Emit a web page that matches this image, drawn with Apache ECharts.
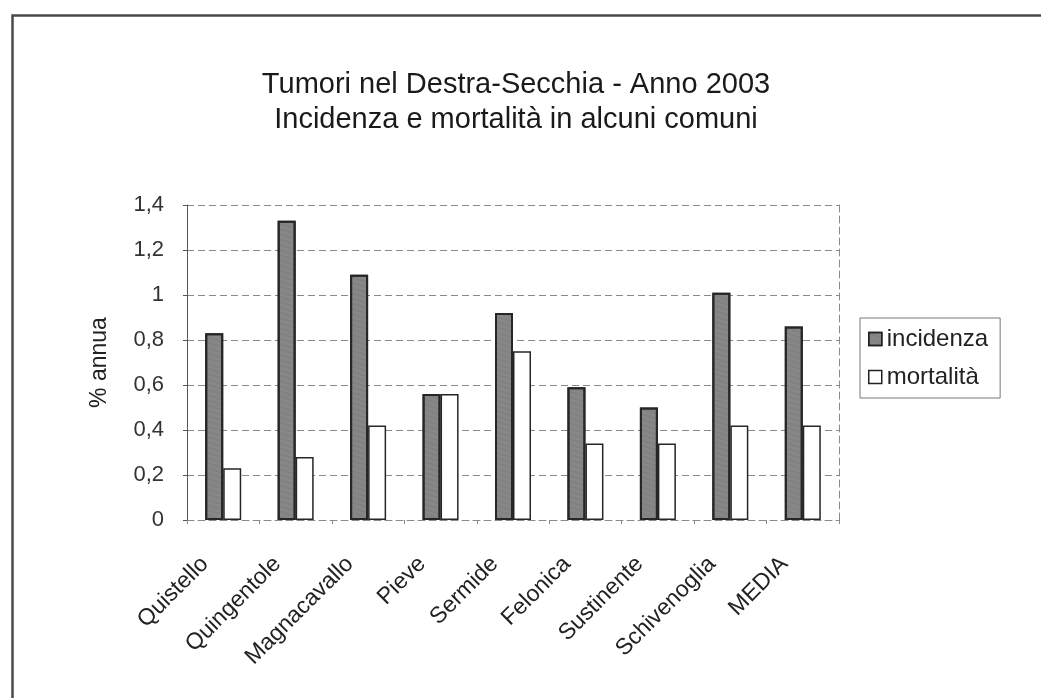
<!DOCTYPE html>
<html>
<head>
<meta charset="utf-8">
<script src="https://cdn.jsdelivr.net/npm/echarts@6/dist/echarts.min.js"></script>
<style>
html,body{margin:0;padding:0;background:#fff;}
#c{width:1041px;height:698px;}
</style>
</head>
<body>
<div id="c"></div>
<script>
const categories = ['Quistello','Quingentole','Magnacavallo','Pieve','Sermide','Felonica','Sustinente','Schivenoglia','MEDIA'];
const incidenza = [0.83, 1.33, 1.09, 0.56, 0.92, 0.59, 0.50, 1.01, 0.86];
const mortalita = [0.23, 0.28, 0.42, 0.56, 0.75, 0.34, 0.34, 0.42, 0.42];
const seriesNames = ['incidenza', 'mortalità'];
const titleLines = ['Tumori nel Destra-Secchia - Anno 2003', 'Incidenza e mortalità in alcuni comuni'];
const yAxisName = '% annua';

const chart = echarts.init(document.getElementById('c'));
const font = 'Liberation Sans, Arial, sans-serif';
const gridLine = { color: '#8a8a8a', type: [7, 4], width: 1 };
chart.setOption({
  backgroundColor: '#ffffff',
  animation: false,
  graphic: [{
    type: 'rect', left: 10, top: 13,
    shape: { width: 1040, height: 700 },
    style: { fill: 'none', stroke: '#4a4a4a', lineWidth: 2.5 },
    silent: true
  }],
  title: {
    text: titleLines.join('\n'),
    left: 511, textAlign: 'center', top: 62,
    textStyle: { fontFamily: font, fontSize: 29, fontWeight: 'normal', color: '#1a1a1a', lineHeight: 35 }
  },
  legend: {
    orient: 'vertical',
    left: 860, top: 318,
    padding: [9, 12, 9, 8],
    borderColor: '#777', borderWidth: 1,
    icon: 'rect',
    itemWidth: 13, itemHeight: 13, itemGap: 14,
    itemStyle: { borderColor: '#222', borderWidth: 1.5 },
    textStyle: { fontFamily: font, fontSize: 24, color: '#222' },
    data: seriesNames
  },
  grid: { left: 187, top: 205, width: 652, height: 315, containLabel: false },
  xAxis: {
    type: 'category',
    data: categories,
    axisLine: { show: true, lineStyle: gridLine },
    axisTick: { show: true, length: 4, lineStyle: { color: '#888' } },
    axisLabel: {
      rotate: 45, fontFamily: font, fontSize: 23, color: '#222',
      margin: 22, interval: 0, padding: [0, 26, 0, 0]
    }
  },
  yAxis: [{
    type: 'value',
    min: 0, max: 1.4, interval: 0.2,
    name: yAxisName, nameLocation: 'middle', nameGap: 76,
    nameTextStyle: { fontFamily: font, fontSize: 23, color: '#222' },
    axisLine: { show: true, lineStyle: { color: '#555', width: 1 } },
    axisTick: { show: true, length: 4, lineStyle: { color: '#555' } },
    axisLabel: {
      fontFamily: font, fontSize: 22, color: '#333', margin: 23,
      formatter: v => String(Math.round(v * 10) / 10).replace('.', ',')
    },
    splitLine: { show: true, lineStyle: gridLine }
  }, {
    type: 'value', position: 'right',
    min: 0, max: 1.4, interval: 0.2,
    axisLine: { show: true, lineStyle: gridLine },
    axisTick: { show: false }, axisLabel: { show: false }, splitLine: { show: false }
  }],
  series: [
    {
      name: seriesNames[0], type: 'bar', data: incidenza,
      barWidth: 18, barGap: '0%',
      itemStyle: {
        color: '#878787', borderColor: '#262626', borderWidth: 2,
        decal: { symbol: 'rect', symbolSize: 0.4, color: 'rgba(60,60,60,0.35)', dashArrayX: [1, 0], dashArrayY: [2, 3], rotation: 0.3 }
      }
    },
    {
      name: seriesNames[1], type: 'bar', data: mortalita,
      barWidth: 18,
      itemStyle: { color: '#ffffff', borderColor: '#262626', borderWidth: 1.5 }
    }
  ]
});
</script>
</body>
</html>
